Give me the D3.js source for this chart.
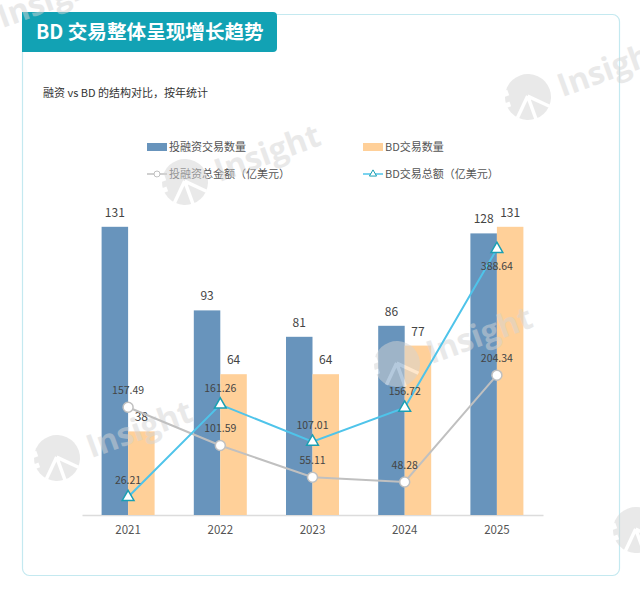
<!DOCTYPE html>
<html><head><meta charset="utf-8">
<script src="https://cdn.jsdelivr.net/npm/d3@7/dist/d3.min.js"></script>
<style>
html,body{margin:0;padding:0;background:#fff;}
svg{display:block;font-family:"Noto Sans CJK SC","Noto Sans",sans-serif;}
</style></head>
<body><svg id="c" width="640" height="591"></svg>
<script>
const years = ['2021','2022','2023','2024','2025'];
const investCount = [131, 93, 81, 86, 128];
const bdCount = [38, 64, 64, 77, 131];
const investAmount = [157.49, 101.59, 55.11, 48.28, 204.34];
const bdAmount = [26.21, 161.26, 107.01, 156.72, 388.64];
const titleText = 'BD 交易整体呈现增长趋势';
const subtitleText = '融资 vs BD 的结构对比，按年统计';
const legendNames = ['投融资交易数量', 'BD交易数量', '投融资总金额（亿美元）', 'BD交易总额（亿美元）'];

const C = {blue:'#6894bc', orange:'#ffd099', grey:'#c0c0c0', sky:'#4fc4ea', tri:'#1a9fb3', teal:'#12a2b4'};
const svg = d3.select('#c');

// card
svg.append('rect').attr('x',22.5).attr('y',14.5).attr('width',597).attr('height',561)
  .attr('rx',7).attr('fill','#fff').attr('stroke','#c4e9f0').attr('stroke-width',1.2);
// title banner
svg.append('path').attr('d','M22,12 H273 Q277,12 277,16 V48 Q277,52 273,52 H22 Z').attr('fill',C.teal);
svg.append('text').attr('x',36).attr('y',39).attr('fill','#fff').attr('font-size',19.6).attr('font-weight',700).text(titleText);
svg.append('text').attr('x',43).attr('y',97).attr('fill','#333').attr('font-size',11).text(subtitleText);

// scales
const x = d3.scaleBand().domain(years).range([82,543]);
const cx = d => x(d) + x.bandwidth()/2;
const yBar = d3.scaleLinear().domain([0,140]).range([515,207]);
const yLine = d3.scaleLinear().domain([0,450]).range([515,207]);
const bw = 26.5;

// legend
const lg = svg.append('g').attr('font-size',11).attr('fill','#555');
lg.append('rect').attr('x',147).attr('y',143).attr('width',20).attr('height',8).attr('fill',C.blue);
lg.append('text').attr('x',169).attr('y',151).text(legendNames[0]);
lg.append('rect').attr('x',363).attr('y',143).attr('width',20).attr('height',8).attr('fill',C.orange);
lg.append('text').attr('x',385).attr('y',151).text(legendNames[1]);
lg.append('line').attr('x1',147).attr('x2',167).attr('y1',174).attr('y2',174).attr('stroke',C.grey).attr('stroke-width',1.5);
lg.append('circle').attr('cx',157).attr('cy',174).attr('r',3).attr('fill','#fff').attr('stroke',C.grey);
lg.append('text').attr('x',169).attr('y',178).text(legendNames[2]);
lg.append('line').attr('x1',363).attr('x2',383).attr('y1',174).attr('y2',174).attr('stroke',C.sky).attr('stroke-width',1.5);
lg.append('path').attr('d',d3.symbol(d3.symbolTriangle,22)()).attr('transform','translate(373,174)').attr('fill','#fff').attr('stroke',C.tri);
lg.append('text').attr('x',385).attr('y',178).text(legendNames[3]);

// axis
const ax = svg.append('g').attr('transform','translate(0,515)')
  .call(d3.axisBottom(x).tickSize(0).tickPadding(11));
ax.select('.domain').attr('stroke','#dcdcdc').attr('stroke-width',1.5);
ax.selectAll('text').attr('font-size',11.5).attr('fill','#555').attr('font-family','"Noto Sans CJK SC",sans-serif');

// bars
const bars = svg.append('g');
bars.selectAll('.b1').data(years).join('rect')
  .attr('x',d=>cx(d)-bw).attr('width',bw)
  .attr('y',(d,i)=>yBar(investCount[i])).attr('height',(d,i)=>yBar(0)-yBar(investCount[i]))
  .attr('fill',C.blue);
bars.selectAll('.b2').data(years).join('rect')
  .attr('x',d=>cx(d)).attr('width',bw)
  .attr('y',(d,i)=>yBar(bdCount[i])).attr('height',(d,i)=>yBar(0)-yBar(bdCount[i]))
  .attr('fill',C.orange);

// watermarks (over bars, under lines and labels)
function watermark(px,py){
  const g = svg.append('g').attr('transform',`translate(${px},${py}) rotate(-20)`)
    .attr('opacity',0.5).style('pointer-events','none');
  g.append('circle').attr('r',23).attr('fill','#d4d4d4');
  g.append('path').attr('d','M0,-1 L-17,16 M0,-1 L17,16 M0,-1 V24').attr('stroke','#fff').attr('stroke-width',3.5).attr('fill','none');
  g.append('rect').attr('x',-25).attr('y',-14).attr('width',8).attr('height',6).attr('fill','#fff');
  g.append('rect').attr('x',-25).attr('y',-2).attr('width',6).attr('height',5).attr('fill','#fff');
  g.append('text').attr('x',32).attr('y',12).attr('font-size',32).attr('font-weight',700)
    .attr('font-family','"Open Sans","Noto Sans",sans-serif').attr('fill','#d4d4d4').text('Insight');
}
[[528,97],[185,182],[397,364],[57,458],[636,530],[-32,28]].forEach(p=>watermark(p[0],p[1]));

const bl = svg.append('g').attr('font-size',12).attr('fill','#444').attr('text-anchor','middle');
years.forEach((d,i)=>{
  bl.append('text').attr('x',cx(d)-bw/2).attr('y',yBar(investCount[i])-10).text(investCount[i]);
  bl.append('text').attr('x',cx(d)+bw/2).attr('y',yBar(bdCount[i])-10).text(bdCount[i]);
});

// lines
const lineGen = arr => d3.line().x((d,i)=>cx(years[i])).y(d=>yLine(d))(arr);
svg.append('path').attr('d',lineGen(investAmount)).attr('fill','none').attr('stroke',C.grey).attr('stroke-width',2);
svg.append('path').attr('d',lineGen(bdAmount)).attr('fill','none').attr('stroke',C.sky).attr('stroke-width',2);
svg.append('g').selectAll('circle').data(investAmount).join('circle')
  .attr('cx',(d,i)=>cx(years[i])).attr('cy',d=>yLine(d)).attr('r',5)
  .attr('fill','#fff').attr('stroke',C.grey).attr('stroke-width',1.5);
svg.append('g').selectAll('path').data(bdAmount).join('path')
  .attr('d',d3.symbol(d3.symbolTriangle,60)())
  .attr('transform',(d,i)=>`translate(${cx(years[i])},${yLine(d)})`)
  .attr('fill','#fff').attr('stroke',C.tri).attr('stroke-width',1.5);
const ll = svg.append('g').attr('font-size',10.5).attr('fill','#444').attr('text-anchor','middle');
investAmount.forEach((v,i)=>{
  ll.append('text').attr('x',cx(years[i])).attr('y',yLine(v)-13).text(v.toFixed(2));
});
bdAmount.forEach((v,i)=>{
  const below = v > 300;
  ll.append('text').attr('x',cx(years[i])).attr('y',yLine(v)+(below?21:-13)).text(v.toFixed(2));
});
</script></body></html>
